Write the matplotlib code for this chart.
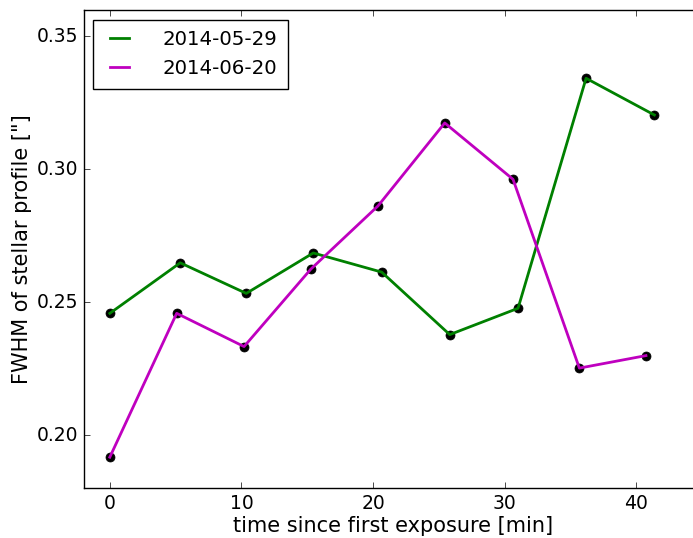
import matplotlib
matplotlib.use('Agg')
import matplotlib.pyplot as plt

plt.style.use('classic')

# time since first exposure [min] and FWHM ["] for the two nights
t_0529 = [0.0, 5.35, 10.37, 15.46, 20.66, 25.83, 31.02, 36.19, 41.38]
fwhm_0529 = [0.2458, 0.2648, 0.2533, 0.2685, 0.2613, 0.2378, 0.2477, 0.3342, 0.3204]

t_0620 = [0.0, 5.08, 10.20, 15.27, 20.38, 25.45, 30.64, 35.68, 40.74]
fwhm_0620 = [0.1917, 0.2458, 0.2333, 0.2624, 0.2862, 0.3174, 0.2962, 0.2252, 0.2299]

fig = plt.figure(figsize=(6.93, 5.38), dpi=100, facecolor='white')
ax = fig.add_axes([0.1205, 0.0924, 0.8925, 0.8896])

ax.plot(t_0529, fwhm_0529, 'ko', ms=6.5, zorder=2)
ax.plot(t_0529, fwhm_0529, '-', color='green', lw=2, label='2014-05-29', zorder=3)
ax.plot(t_0620, fwhm_0620, 'ko', ms=6.5, zorder=2)
ax.plot(t_0620, fwhm_0620, '-', color='m', lw=2, label='2014-06-20', zorder=3)

ax.set_xlim(-2, 45)
ax.set_ylim(0.18, 0.36)
ax.set_xticks([0, 10, 20, 30, 40])
ax.set_yticks([0.20, 0.25, 0.30, 0.35])
ax.tick_params(labelsize=13.5)
ax.set_xlabel('time since first exposure [min]', fontsize=15, labelpad=2)
ax.set_ylabel('FWHM of stellar profile ["]', fontsize=15, labelpad=3)

ax.legend(loc='upper left', fontsize=14.2, handlelength=1.55,
          handletextpad=1.4, borderaxespad=0.5, borderpad=0.55)

fig.savefig('out.png', dpi=100, facecolor='white')
